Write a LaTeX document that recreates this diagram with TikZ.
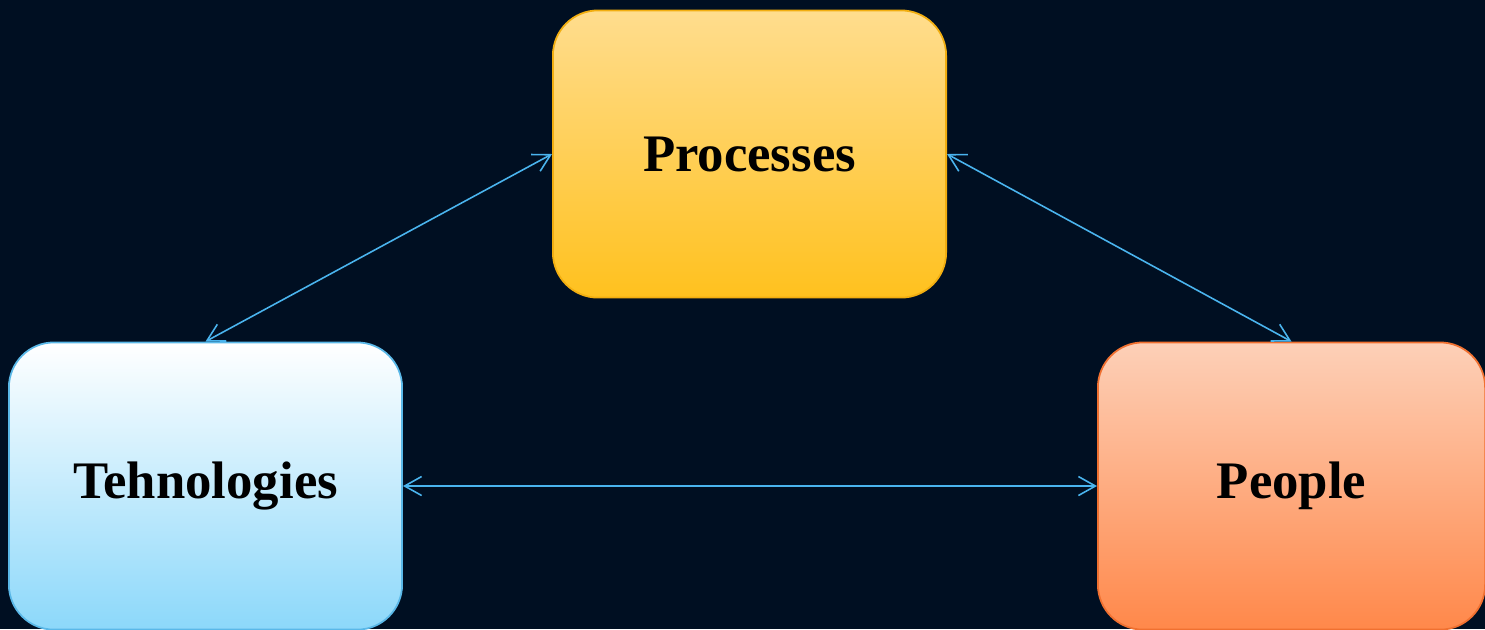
\documentclass[tikz,border=0pt]{standalone}
\usepackage{fontspec}
\setmainfont{Liberation Serif}
\usetikzlibrary{arrows.meta}
\definecolor{bgnavy}{HTML}{000F22}
\definecolor{linkblue}{HTML}{4AB4EE}
\definecolor{procline}{HTML}{F2AE10}
\definecolor{proctop}{HTML}{FFDD8E}
\definecolor{procbot}{HTML}{FFC11E}
\definecolor{techline}{HTML}{5AB8E8}
\definecolor{techbot}{HTML}{8CD8FA}
\definecolor{peopleline}{HTML}{F07030}
\definecolor{peopletop}{HTML}{FDD0B8}
\definecolor{peoplebot}{HTML}{FF884A}
\tikzstyle{block} = [rectangle, rounded corners=0.45cm, minimum width=3.93cm, minimum height=2.87cm, text centered, line width=0.5pt, font=\fontsize{15}{18}\selectfont\bfseries, text=black]
\tikzstyle{procbox} = [block, draw=procline, top color=proctop, bottom color=procbot]
\tikzstyle{techbox} = [block, draw=techline, top color=white, bottom color=techbot]
\tikzstyle{peoplebox} = [block, minimum width=3.87cm, draw=peopleline, top color=peopletop, bottom color=peoplebot]
\tikzstyle{link} = [linkblue, line width=0.45pt, {Straight Barb[length=1.7mm, width=1.9mm]}-{Straight Barb[length=1.7mm, width=1.9mm]}]

\begin{document}
\begin{tikzpicture}[x=0.01cm, y=-0.01cm]
    \fill [bgnavy] (0,0) rectangle (1485,629);
    \useasboundingbox (0,0) rectangle (1485,629);
    \node (proc) [procbox] at (749.5,154) {Processes};
    \node (tech) [techbox] at (205.5,486) {Tehnologies};
    \node (people) [peoplebox] at (1291.5,486) {People};

    \draw [link] (proc.west) -- (tech.north);
    \draw [link] (proc.east) -- (people.north);
    \draw [link] (tech.east) -- (people.west);
\end{tikzpicture}
\end{document}
